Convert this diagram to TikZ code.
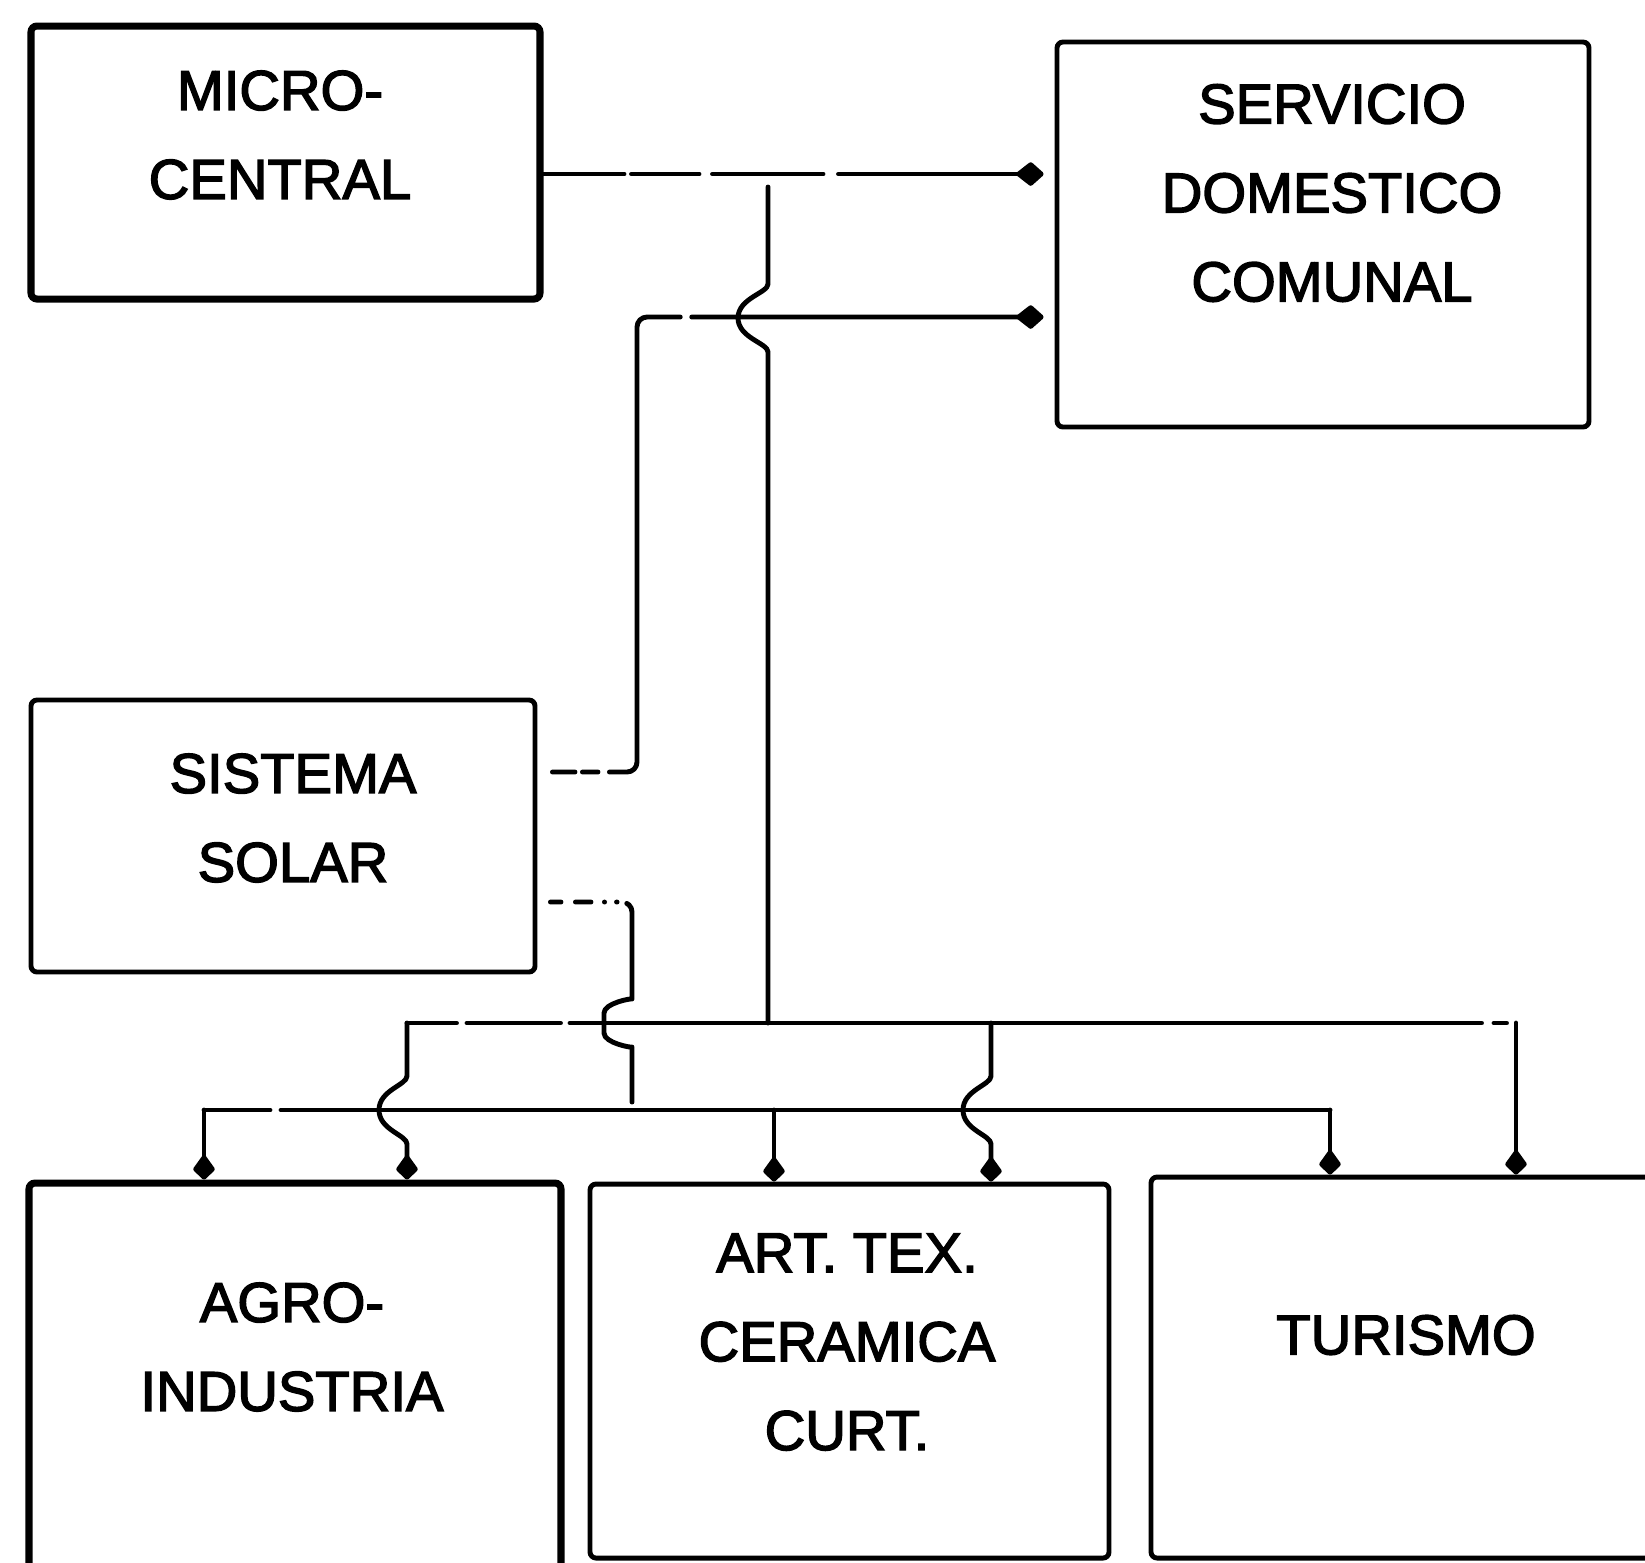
\documentclass[tikz,border=0pt]{standalone}
\usepackage{fontspec}
\setmainfont{Liberation Sans}[FakeBold=2.5]
\usetikzlibrary{arrows.meta}
\begin{document}
\begin{tikzpicture}[x=0.1mm,y=-0.1mm,
  box/.style={draw,line width=1.4pt,rounded corners=0.6mm,inner sep=0pt},
  heavybox/.style={box,line width=2pt},
  lbl/.style={align=center,font=\fontsize{16pt}{25.3pt}\selectfont},
  wire/.style={line width=1.4pt,line cap=round,line join=round},
  toside/.style={-{Kite[length=3mm,width=2.5mm,inset=1.6mm,round]},shorten >=1.1mm},
  todown/.style={-{Kite[length=2.7mm,width=2.3mm,inset=1.6mm,round]}}]
\useasboundingbox (0,0) rectangle (1645,1562);
\clip (0,0) rectangle (1645,1562);
\node[heavybox,minimum width=50.9mm,minimum height=27.3mm] (mc) at (285.5,162.5) {};
\node[box,minimum width=53.2mm,minimum height=38.5mm] (serv) at (1323,234.5) {};
\node[box,minimum width=50.4mm,minimum height=27.2mm] (solar) at (283,836) {};
\node[heavybox,minimum width=53.2mm,minimum height=42mm] (agro) at (295,1393) {};
\node[box,minimum width=51.9mm,minimum height=37.4mm] (art) at (849.5,1371) {};
\node[box,minimum width=60mm,minimum height=38.1mm] (tur) at (1451,1367.5) {};
\node[lbl] (mc-t) at (280,135) {MICRO-\\CENTRAL};
\node[lbl] (serv-t) at (1332,193) {SERVICIO\\DOMESTICO\\COMUNAL};
\node[lbl] (solar-t) at (293,818) {SISTEMA\\SOLAR};
\node[lbl] (agro-t) at (292,1347) {AGRO-\\INDUSTRIA};
\node[lbl] (art-t) at (847,1342) {ART. TEX.\\CERAMICA\\CURT.};
\node[lbl] (tur-t) at (1406,1335) {TURISMO};
\coordinate (tap) at (768,174);
\coordinate (hub) at (768,1023);
\coordinate (s1) at (637,772);
\coordinate (s2) at (632,902);
\coordinate (b1w) at (407,1023);
\coordinate (b1m) at (991,1023);
\coordinate (b1e) at (1516,1023);
\coordinate (b2w) at (204,1110);
\coordinate (b2m) at (774,1110);
\coordinate (b2e) at (1330,1110);
\coordinate (b2in) at (632,1102);
\draw[wire,toside,dash pattern=on 8.05mm off 0.75mm on 6.75mm off 1.35mm on 11.05mm off 1.55mm on 100cm] (mc.east|-tap)--(serv.west|-tap);
\draw[wire,toside,rounded corners=1mm,dash pattern=on 2.25mm off 0.75mm on 1.55mm off 1.15mm on 51.7mm off 1.15mm on 100cm] ([xshift=1.5mm]solar.east|-s1)--(s1)|-(serv.west|-0,317);
\draw[wire,shorten <=1.3mm] (tap)--(768,284) .. controls (768,293) and (738,298) .. (738,318) .. controls (738,338) and (768,343) .. (768,352)--(hub);
\draw[wire,rounded corners=1mm,dash pattern=on 1.05mm off 1.45mm on 1.55mm off 1.35mm on 0.01mm off 1.2mm on 0.05mm off 1mm on 100cm] ([xshift=1.3mm]solar.east|-s2)--(s2)--(632,989) .. controls (632,998) and (604,1003) .. (604,1023) .. controls (604,1043) and (632,1048) .. (632,1057)--(b2in);
\draw[wire,dash pattern=on 4.95mm off 1.05mm on 9.35mm off 0.95mm on 91.15mm off 1.25mm on 1.25mm off 100cm] (b1w)--(b1e);
\draw[wire,todown] (b1w)--(407,1076) .. controls (407,1085) and (379,1090) .. (379,1110) .. controls (379,1130) and (407,1135) .. (407,1144)--(agro.north-|b1w);
\draw[wire,todown] (b1m)--(991,1076) .. controls (991,1085) and (963,1090) .. (963,1110) .. controls (963,1130) and (991,1135) .. (991,1144)--(art.north-|b1m);
\draw[wire,todown] (b1e)--(tur.north-|b1e);
\draw[wire,dash pattern=on 6.6mm off 1.1mm on 100cm] (b2w)--(b2e);
\draw[wire,todown] (b2w)--(agro.north-|b2w);
\draw[wire,todown] (b2m)--(art.north-|b2m);
\draw[wire,todown] (b2e)--(tur.north-|b2e);
\end{tikzpicture}
\end{document}
